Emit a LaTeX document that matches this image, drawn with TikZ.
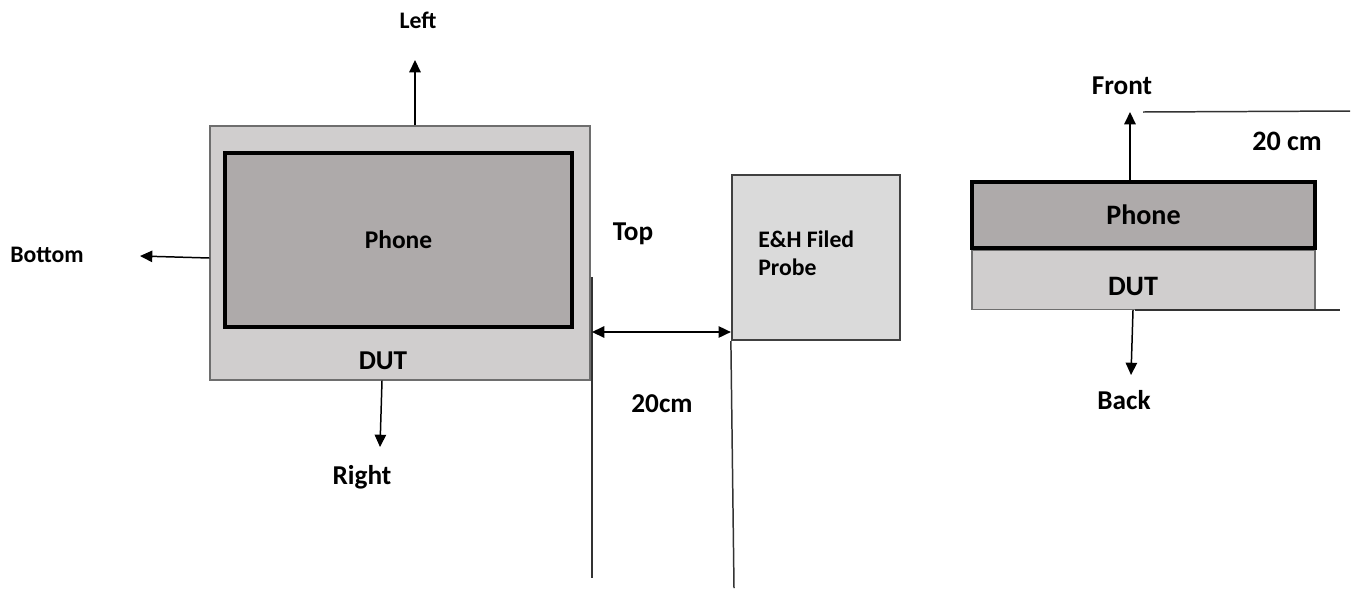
\documentclass[tikz,border=0pt]{standalone}
\usepackage{fontspec}
\setmainfont{Carlito}
\definecolor{DUTColor}{RGB}{208,206,206}
\definecolor{PhoneColor}{RGB}{174,170,170}
\definecolor{ProbeColor}{RGB}{218,218,218}
\definecolor{EdgeColor}{RGB}{110,110,110}
\usetikzlibrary{arrows.meta, positioning, calc}
\tikzset{
    base/.style={
        inner sep=0pt,
        font=\fontsize{15.5}{16.5}\selectfont\bfseries
    },
    dutbox/.style={base, draw=EdgeColor, fill=DUTColor, line width=0.8pt},
    phonebox/.style={base, draw=black, fill=PhoneColor, line width=2pt},
    probebox/.style={base, draw=black!75, fill=ProbeColor, line width=1.3pt},
    label/.style={base},
    small/.style={font=\fontsize{13.5}{16.5}\selectfont\bfseries},
    arrow/.style={-{Triangle[width=6.5pt,length=7pt]}, line width=0.85pt},
    dimline/.style={line width=0.85pt, draw=black!80}
}
\begin{document}
\begin{tikzpicture}[x=0.02cm, y=-0.02cm]
        \useasboundingbox (0,0) rectangle (1355,589);

        % top view
        \node[dutbox, minimum width=7.6cm, minimum height=5.08cm] (dut) at (400,253) {};
        \node[phonebox, small, font=\fontsize{14.5}{16.5}\selectfont\bfseries, minimum width=6.94cm, minimum height=3.48cm] (phone) at (398.5,240) {Phone};
        \node[label] (dutlabel) at (383,361) {DUT};

        \node[label, small] (left) at (418,20) {Left};
        \node[label, small] (bottom) at (47,255) {Bottom};
        \node[label] (right) at (362,477) {Right};
        \node[label] (top) at (633,234) {Top};

        \coordinate (lefttip) at (415,60);
        \coordinate (bottomtip) at (140,256);
        \coordinate (righttip) at (380,447);
        \draw[arrow] (dut.north -| lefttip) -- (lefttip);
        \draw[arrow] ($(dut.west)+(0,5)$) -- (bottomtip);
        \draw[arrow] (dut.south -| 382,0) -- (righttip);

        % probe and distance
        \node[probebox, minimum width=3.36cm, minimum height=3.3cm] (probe) at (816,257.5) {};
        \node[label, small, anchor=north west, align=left] (probetext) at (758,230) {E\&H Filed\\Probe};

        \coordinate (dutedge) at (592,277);
        \coordinate (dutfoot) at (592,578);
        \coordinate (probefoot) at (734,588);
        \draw[dimline] (dutedge) -- (dutfoot);
        \draw[dimline] (probe.south west) -- (probefoot);
        \draw[{Triangle[width=6.5pt,length=7pt]}-{Triangle[width=6.5pt,length=7pt]}, line width=0.85pt]
            (dutedge |- 0,332) -- (probe.west |- 0,332);
        \node[label] (dist) at (662,404) {20cm};

        % side view
        \node[phonebox, font=\fontsize{16}{16.5}\selectfont\bfseries, minimum width=6.86cm, minimum height=1.32cm] (sidephone) at (1143.5,215) {Phone};
        \node[dutbox, minimum width=6.86cm, minimum height=1.18cm, anchor=north] (sidedut) at (sidephone.south) {};
        \node[label, font=\fontsize{16}{16.5}\selectfont\bfseries] (sidedutlabel) at (1133,286) {DUT};

        \node[label] (front) at (1122,86) {Front};
        \node[label] (back) at (1124,400) {Back};
        \node[label, font=\fontsize{16}{16.5}\selectfont\bfseries] (sidedist) at (1287,141) {20 cm};

        \coordinate (fronttip) at (1130,112);
        \coordinate (backtip) at (1131,375);
        \coordinate (frontend) at (1350,111);
        \coordinate (backend) at (1340,307);
        \draw[arrow] (sidephone.north -| fronttip) -- (fronttip);
        \draw[arrow] (sidedut.south -| 1133,0) -- (backtip);
        \draw[dimline] (1143,112) -- (frontend);
        \draw[dimline] (sidedut.south -| 1135,0) -- (sidedut.south -| backend);

        \end{tikzpicture}
\end{document}
